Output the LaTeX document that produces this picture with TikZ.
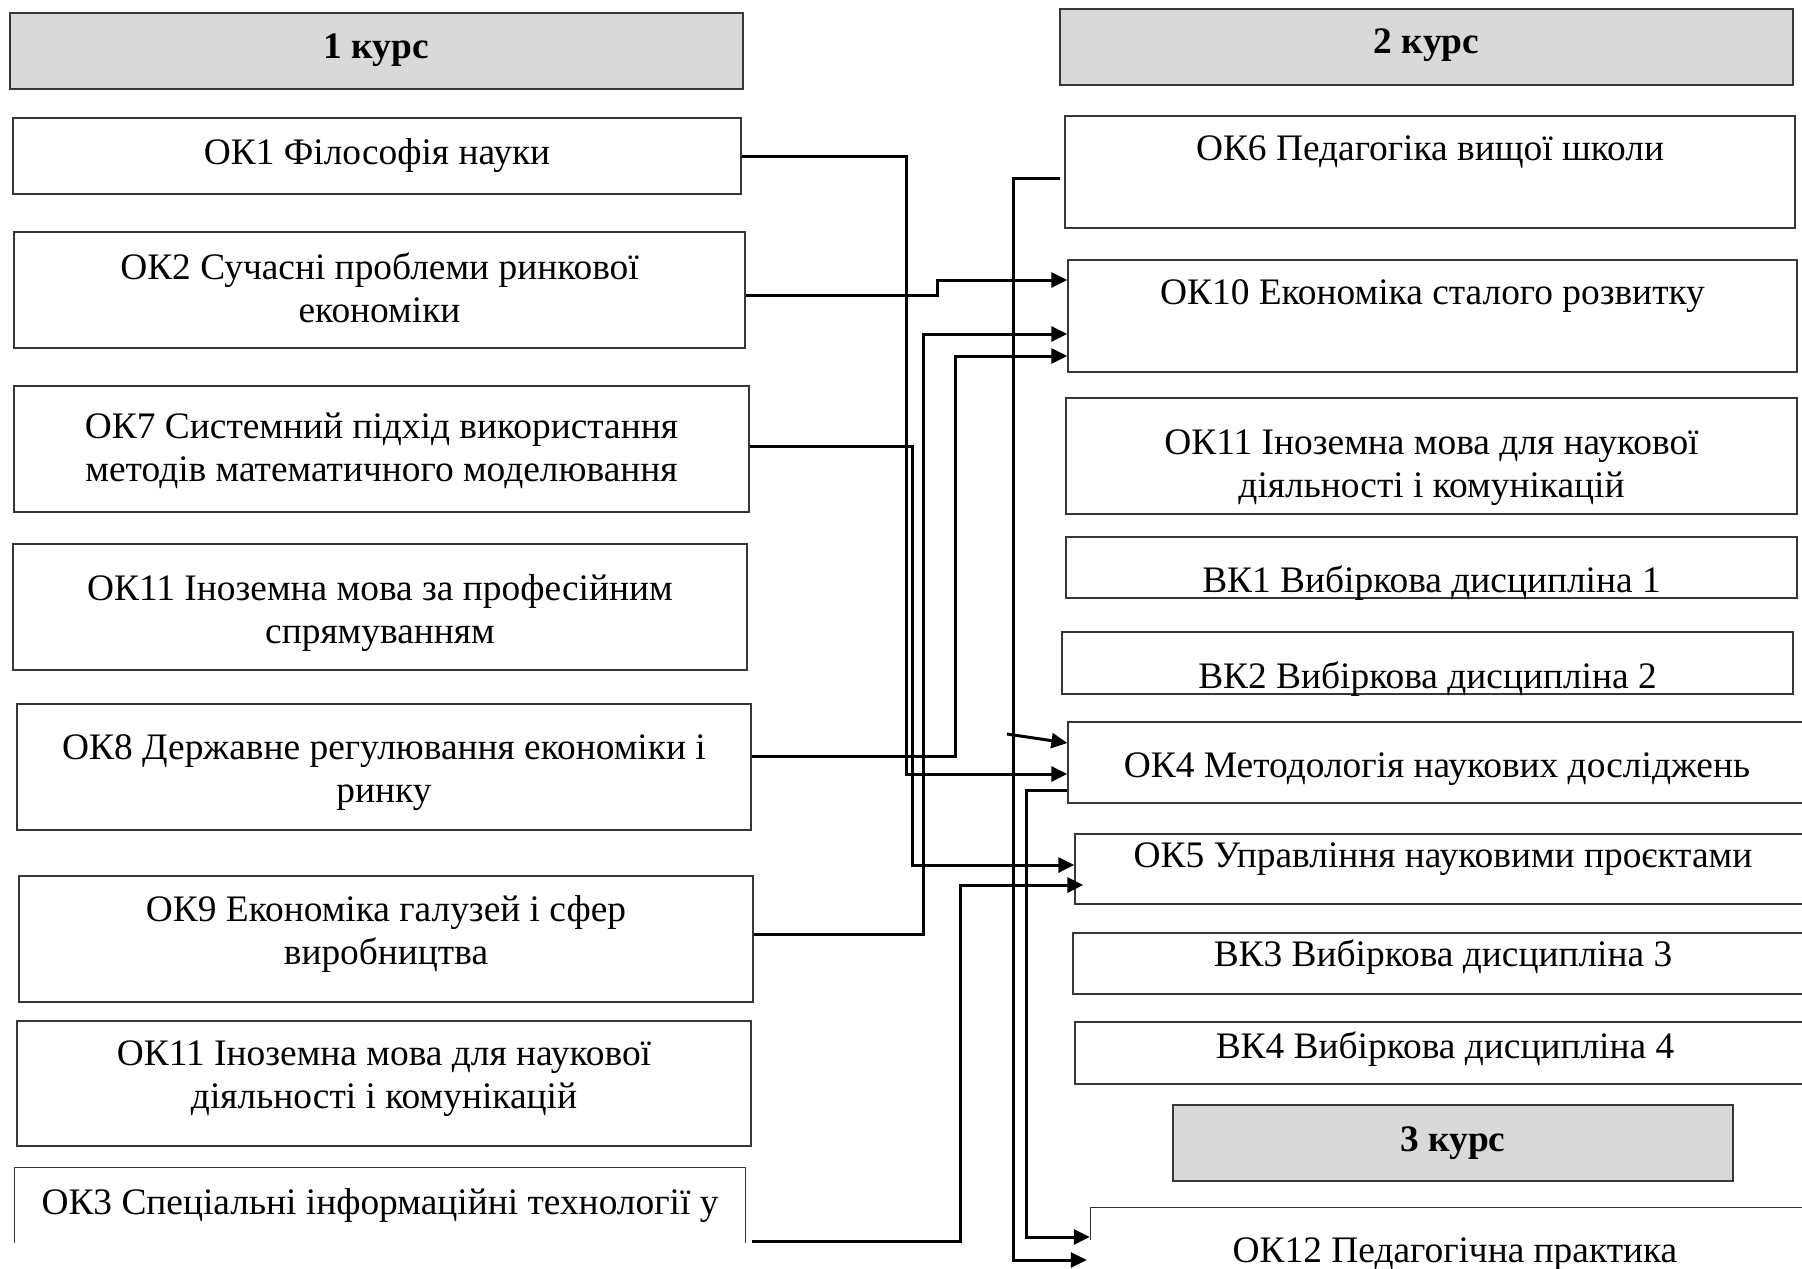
\documentclass[tikz,border=0pt]{standalone}
\usepackage{fontspec}
\setmainfont{Liberation Serif}
\usetikzlibrary{arrows.meta,fit}
\definecolor{hdrgray}{RGB}{217,217,217}
\definecolor{edgegray}{RGB}{55,55,55}
\tikzstyle{kbox}=[draw=edgegray, line width=1.3pt, fill=white, inner sep=0pt]
\tikzstyle{kopen}=[inner sep=0pt]
\tikzstyle{khead}=[kbox, fill=hdrgray]
\tikzstyle{ktext}=[inner sep=0pt, align=center, font=\fontsize{37.4}{43}\selectfont]
\tikzstyle{khtext}=[ktext, font=\fontsize{37.4}{43}\selectfont\bfseries]
\tikzstyle{link}=[draw, line width=3pt, -{Triangle[length=16pt,width=15pt]}]
\newcommand{\kbox}{\node[kbox]}

\begin{document}
\begin{tikzpicture}[x=1pt, y=-1pt]
\useasboundingbox (0,0) rectangle (1802,1269);
\clip (0,0) rectangle (1802,1269);
% 1 курс
\node[khead, fit={(10,13) (743,89)}] (h1) {};
\kbox[fit={(13,118) (741,194)}] (ok1) {};
\kbox[fit={(14,232) (745,348)}] (ok2) {};
\kbox[fit={(14,386) (749,512)}] (ok7) {};
\kbox[fit={(13,544) (747,670)}] (ok11a) {};
\kbox[fit={(17,704) (751,830)}] (ok8) {};
\kbox[fit={(19,876) (753,1002)}] (ok9) {};
\kbox[fit={(17,1021) (751,1146)}] (ok11b) {};
\node[kopen, fit={(15,1168) (745,1243)}] (ok3) {};
\draw[kbox] (ok3.south west) -- (ok3.north west) -- (ok3.north east) -- (ok3.south east);
% 2 курс
\node[khead, fit={(1060,9) (1793,85)}] (h2) {};
\kbox[fit={(1065,116) (1795,228)}] (ok6) {};
\kbox[fit={(1068,260) (1797,372)}] (ok10) {};
\kbox[fit={(1066,398) (1797,514)}] (ok11c) {};
\kbox[fit={(1066,537) (1797,598)}] (vk1) {};
\kbox[fit={(1062,632) (1793,694)}] (vk2) {};
\kbox[fit={(1068,722) (1806,803)}] (ok4) {};
\kbox[fit={(1075,834) (1811,904)}] (ok5) {};
\kbox[fit={(1073,933) (1813,994)}] (vk3) {};
\kbox[fit={(1075,1022) (1815,1084)}] (vk4) {};
% 3 курс
\node[khead, fit={(1173,1105) (1733,1181)}] (h3) {};
\node[kopen, fit={(1091,1208) (1819,1300)}] (ok12) {};
\draw[kbox] ([yshift=-32pt]ok12.north west) -- (ok12.north west) -- (ok12.north east);

% texts
\node[khtext] (h1t) at (h1 |- 0,50) {1 курс};
\node[ktext] (ok1t) at (ok1 |- 0,156) {ОК1 Філософія науки};
\node[ktext] (ok2t) at (ok2 |- 0,287.5) {ОК2 Сучасні проблеми ринкової\\економіки};
\node[ktext] (ok7t) at (ok7 |- 0,451) {ОК7 Системний підхід використання\\методів математичного моделювання};
\node[ktext] (ok11at) at (ok11a |- 0,613) {ОК11 Іноземна мова за професійним\\спрямуванням};
\node[ktext] (ok8t) at (ok8 |- 0,773) {ОК8 Державне регулювання економіки і\\ринку};
\node[ktext] (ok9t) at (ok9 |- 0,934) {ОК9 Економіка галузей і сфер\\виробництва};
\node[ktext] (ok11bt) at (ok11b |- 0,1079) {ОК11 Іноземна мова для наукової\\діяльності і комунікацій};
\node[ktext] (ok3t) at (ok3 |- 0,1206) {ОК3 Спеціальні інформаційні технології у};
\node[khtext] (h2t) at (h2 |- 0,45) {2 курс};
\node[ktext] (ok6t) at (ok6 |- 0,152) {ОК6 Педагогіка вищої школи};
\node[ktext] (ok10t) at (ok10 |- 0,296) {ОК10 Економіка сталого розвитку};
\node[ktext] (ok11ct) at (ok11c |- 0,468) {ОК11 Іноземна мова для наукової\\діяльності і комунікацій};
\node[ktext] (vk1t) at (vk1 |- 0,583) {ВК1 Вибіркова дисципліна 1};
\node[ktext] (vk2t) at (vk2 |- 0,679) {ВК2 Вибіркова дисципліна 2};
\node[ktext] (ok4t) at (ok4 |- 0,769) {ОК4 Методологія наукових досліджень};
\node[ktext] (ok5t) at (ok5 |- 0,859) {ОК5 Управління науковими проєктами};
\node[ktext] (vk3t) at (vk3 |- 0,957) {ВК3 Вибіркова дисципліна 3};
\node[ktext] (vk4t) at (vk4 |- 0,1049) {ВК4 Вибіркова дисципліна 4};
\node[khtext] (h3t) at (h3 |- 0,1143) {3 курс};
\node[ktext] (ok12t) at (ok12 |- 0,1254) {ОК12 Педагогічна практика};

% rails and ends
\coordinate (r1) at (906,0);
\coordinate (r2) at (937,0);
\coordinate (r3) at (912,0);
\coordinate (r4) at (955,0);
\coordinate (r5) at (923,0);
\coordinate (r6) at (960,0);
\coordinate (r7) at (1013,0);
\coordinate (r8) at (1026,0);
\coordinate (ok2out) at ([yshift=-5pt]ok2.east);
\coordinate (ok7out) at ([yshift=3pt]ok7.east);
\coordinate (ok8out) at ([yshift=11pt]ok8.east);
\coordinate (ok9out) at ([yshift=5pt]ok9.east);
\coordinate (ok3out) at ([xshift=7pt,yshift=-35.5pt]ok3.east);
\coordinate (ok6out) at ([xshift=-4pt,yshift=-6pt]ok6.west);
\coordinate (ok4out) at ([yshift=-27.5pt]ok4.west);
\coordinate (ok10in1) at ([yshift=36pt]ok10.west);
\coordinate (ok10in2) at ([yshift=-18pt]ok10.west);
\coordinate (ok10in3) at ([yshift=-40pt]ok10.west);
\coordinate (ok4in0) at ([yshift=19.5pt]ok4.west);
\coordinate (ok4in1) at ([yshift=-11.5pt]ok4.west);
\coordinate (ok5in1) at ([yshift=4pt]ok5.west);
\coordinate (ok5in2) at ([xshift=9pt,yshift=-16pt]ok5.west);
\coordinate (ok12in1) at ([xshift=-1pt,yshift=17pt]ok12.west);
\coordinate (ok12in2) at ([xshift=-4pt,yshift=-6pt]ok12.west);
\coordinate (stray) at (1007,734);

\path
(ok1.east) edge[link, to path={-- (r1 |- \tikztostart) |- (\tikztotarget)}] (ok4in1)
(ok2out) edge[link, to path={-- (r2 |- \tikztostart) |- (\tikztotarget)}] (ok10in1)
(ok7out) edge[link, to path={-- (r3 |- \tikztostart) |- (\tikztotarget)}] (ok5in1)
(ok8out) edge[link, to path={-- (r4 |- \tikztostart) |- (\tikztotarget)}] (ok10in3)
(ok9out) edge[link, to path={-- (r5 |- \tikztostart) |- (\tikztotarget)}] (ok10in2)
(ok3out) edge[link, to path={-- (r6 |- \tikztostart) |- (\tikztotarget)}] (ok5in2)
(ok6out) edge[link, to path={-- (r7 |- \tikztostart) |- (\tikztotarget)}] (ok12in2)
(ok4out) edge[link, to path={-- (r8 |- \tikztostart) |- (\tikztotarget)}] (ok12in1)
(stray) edge[link] (ok4in0)
;
\end{tikzpicture}
\end{document}
